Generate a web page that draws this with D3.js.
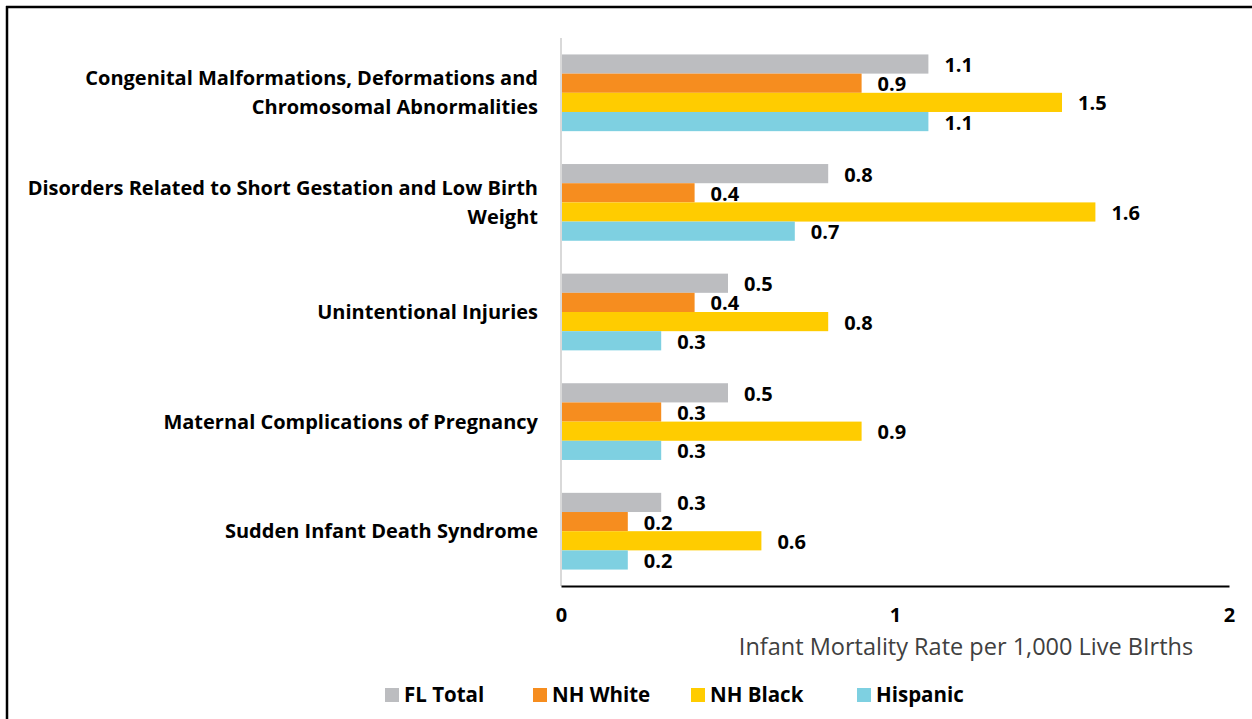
<!DOCTYPE html>
<html>
<head>
<meta charset="utf-8">
<script src="https://cdn.jsdelivr.net/npm/d3@7"></script>
<style>
  body { margin: 0; background: #fff; }
  svg text { font-family: "Open Sans", Lato, sans-serif; }
</style>
</head>
<body>
<div id="chart"></div>
<script>
// categories (two-line labels split with |)
const categories = [
    "Congenital Malformations, Deformations and|Chromosomal Abnormalities",
    "Disorders Related to Short Gestation and Low Birth|Weight",
    "Unintentional Injuries",
    "Maternal Complications of Pregnancy",
    "Sudden Infant Death Syndrome"
];
const seriesNames = ["FL Total", "NH White", "NH Black", "Hispanic"];
const flTotal = [1.1, 0.8, 0.5, 0.5, 0.3];
const nhWhite = [0.9, 0.4, 0.4, 0.3, 0.2];
const nhBlack = [1.5, 1.6, 0.8, 0.9, 0.6];
const hispanic = [1.1, 0.7, 0.3, 0.3, 0.2];
const xTicks = [0, 1, 2];
const colors = ["#BCBDC0", "#F68D1F", "#FFCC00", "#7ED0E1"];

const seriesValues = [flTotal, nhWhite, nhBlack, hispanic];

var width = 1252, height = 719;

var svg = d3.select("#chart")
    .append("svg")
    .attr("width", width)
    .attr("height", height);

// frame lines (top + left)
svg.append("line").attr("x1", 6).attr("x2", width).attr("y1", 7).attr("y2", 7)
    .attr("stroke", "#000").attr("stroke-width", 2.5);
svg.append("line").attr("x1", 7).attr("x2", 7).attr("y1", 6).attr("y2", height)
    .attr("stroke", "#000").attr("stroke-width", 2.5);

var x = d3.scaleLinear().domain([0, 2]).range([561, 1229]);

var y = d3.scaleBand()
    .domain(d3.range(categories.length))
    .range([38, 586])
    .paddingInner(0.3)
    .paddingOuter(0.15);

var ySub = d3.scaleBand()
    .domain(d3.range(seriesNames.length))
    .range([0, y.bandwidth()]);

// bars
seriesValues.forEach((vals, s) => {
    svg.append("g").selectAll("rect")
        .data(vals)
        .enter()
        .append("rect")
        .attr("x", x(0))
        .attr("y", (d, i) => y(i) + ySub(s))
        .attr("width", d => x(d) - x(0))
        .attr("height", ySub.bandwidth())
        .attr("fill", colors[s]);

    svg.append("g").selectAll("text")
        .data(vals)
        .enter()
        .append("text")
        .attr("x", d => x(d) + 16)
        .attr("y", (d, i) => y(i) + ySub(s) + ySub.bandwidth() / 2 + 1)
        .attr("dy", "0.35em")
        .style("font-size", "20px")
        .style("font-weight", "bold")
        .attr("fill", "#000")
        .text(d => d.toFixed(1));
});

// vertical axis line
svg.append("line")
    .attr("x1", x(0)).attr("x2", x(0))
    .attr("y1", 38).attr("y2", 586)
    .attr("stroke", "#D9D9D9").attr("stroke-width", 2);

// x axis
var xAxis = svg.append("g")
    .attr("transform", "translate(0,586)")
    .call(d3.axisBottom(x).tickValues(xTicks).tickSize(0).tickPadding(22).tickFormat(d3.format("d")));
xAxis.select(".domain").attr("stroke", "#000").attr("stroke-width", 2);
xAxis.selectAll("text")
    .style("font-family", "'Open Sans', sans-serif")
    .style("font-size", "20px")
    .style("font-weight", "bold")
    .attr("fill", "#000");

svg.append("text")
    .attr("x", 966)
    .attr("y", 655)
    .attr("text-anchor", "middle")
    .style("font-size", "23.5px")
    .attr("fill", "#404040")
    .text("Infant Mortality Rate per 1,000 Live BIrths");

// category labels
categories.forEach((c, i) => {
    var lines = c.split("|");
    var cy = y(i) + y.bandwidth() / 2;
    var t = svg.append("text")
        .attr("text-anchor", "end")
        .style("font-size", "20px")
        .style("font-weight", "bold")
        .attr("fill", "#000");
    lines.forEach((l, k) => {
        t.append("tspan")
            .attr("x", 538)
            .attr("y", cy + (k - (lines.length - 1) / 2) * 29)
            .attr("dy", "0.35em")
            .text(l);
    });
});

// legend
var legendX = [385, 533, 691, 857];
var legend = svg.append("g");
seriesNames.forEach((n, i) => {
    legend.append("rect")
        .attr("x", legendX[i])
        .attr("y", 688)
        .attr("width", 14)
        .attr("height", 14)
        .attr("fill", colors[i]);
    legend.append("text")
        .attr("x", legendX[i] + 19)
        .attr("y", 695)
        .attr("dy", "0.35em")
        .style("font-size", "20.5px")
        .style("font-weight", "bold")
        .attr("fill", "#000")
        .text(n);
});
</script>
</body>
</html>
